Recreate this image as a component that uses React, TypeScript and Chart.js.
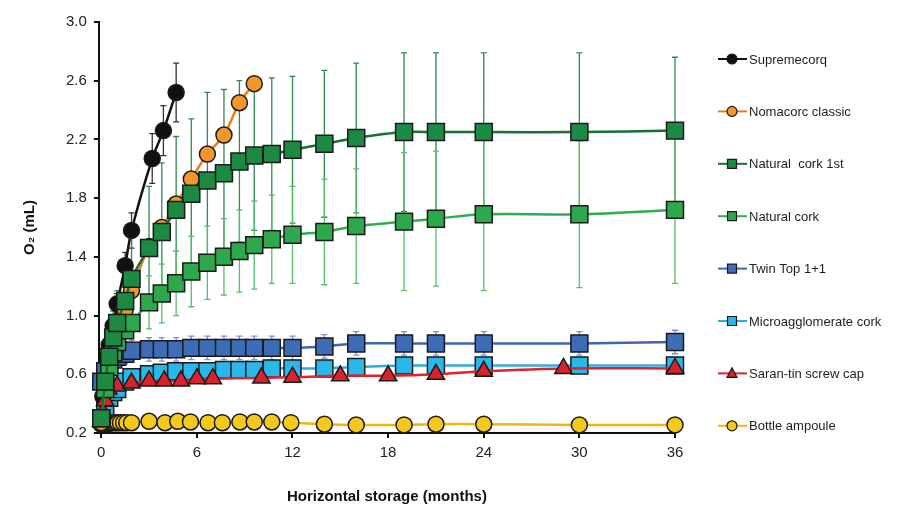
import React, { useEffect, useRef } from 'react';
import { Chart, registerables } from 'chart.js';

Chart.register(...registerables);

const FONT = '"Liberation Sans", Arial, sans-serif';

// ---- data (months, O2 mL, +/- error) ----
const SUPREME_M = [0, 0.1, 0.25, 0.5, 0.75, 1, 1.5, 1.9, 3.2, 3.9, 4.7];
const SUPREME_V = [0.28, 0.45, 0.62, 0.8, 0.93, 1.08, 1.34, 1.58, 2.07, 2.26, 2.52];
const SUPREME_E = [0.01, 0.03, 0.04, 0.05, 0.06, 0.07, 0.09, 0.12, 0.17, 0.17, 0.2];

const NOMA_M = [0, 0.25, 0.5, 0.75, 1, 1.5, 1.9, 3.0, 3.8, 4.7, 5.65, 6.66, 7.7, 8.67, 9.6];
const NOMA_V = [0.27, 0.5, 0.68, 0.8, 0.9, 1.04, 1.17, 1.47, 1.6, 1.76, 1.93, 2.1, 2.23, 2.45, 2.58];
const NOMA_E = [0.01, 0.02, 0.02, 0.03, 0.03, 0.03, 0.03, 0.04, 0.04, 0.04, 0.04, 0.04, 0.04, 0.04, 0.04];

const COMMON_M = [0, 0.25, 0.5, 0.75, 1, 1.5, 1.9, 3.0, 3.8, 4.7, 5.65, 6.66, 7.7, 8.67, 9.6, 10.7, 12, 14, 16, 19, 21, 24, 30, 36];

const NAT1_V = [0.3, 0.55, 0.72, 0.85, 0.95, 1.1, 1.25, 1.46, 1.57, 1.72, 1.83, 1.92, 1.97, 2.05, 2.09, 2.1, 2.13, 2.17, 2.21, 2.25, 2.25, 2.25, 2.25, 2.26];
const NAT1_E = [0.02, 0.08, 0.12, 0.18, 0.22, 0.28, 0.33, 0.42, 0.47, 0.5, 0.51, 0.6, 0.57, 0.55, 0.51, 0.52, 0.5, 0.5, 0.51, 0.54, 0.54, 0.54, 0.54, 0.5];

const NAT_V = [0.3, 0.5, 0.65, 0.75, 0.82, 0.9, 0.95, 1.09, 1.15, 1.22, 1.3, 1.36, 1.4, 1.44, 1.48, 1.52, 1.55, 1.57, 1.61, 1.64, 1.66, 1.69, 1.69, 1.72];
const NAT_E = [0.02, 0.05, 0.07, 0.09, 0.1, 0.12, 0.14, 0.18, 0.2, 0.22, 0.24, 0.25, 0.26, 0.28, 0.3, 0.3, 0.33, 0.36, 0.39, 0.47, 0.46, 0.52, 0.5, 0.5];

const TWIN_V = [0.55, 0.62, 0.67, 0.7, 0.72, 0.74, 0.76, 0.77, 0.77, 0.77, 0.78, 0.78, 0.78, 0.78, 0.78, 0.78, 0.78, 0.79, 0.81, 0.81, 0.81, 0.81, 0.81, 0.82];
const TWIN_E = [0.03, 0.04, 0.05, 0.06, 0.06, 0.07, 0.07, 0.08, 0.08, 0.08, 0.08, 0.08, 0.08, 0.08, 0.08, 0.08, 0.08, 0.08, 0.08, 0.08, 0.08, 0.08, 0.08, 0.08];

const MICRO_V = [0.3, 0.38, 0.44, 0.48, 0.5, 0.55, 0.58, 0.6, 0.61, 0.62, 0.62, 0.62, 0.63, 0.63, 0.63, 0.64, 0.64, 0.64, 0.65, 0.66, 0.66, 0.66, 0.66, 0.66];
const MICRO_E = [0.01, 0.02, 0.02, 0.03, 0.03, 0.03, 0.03, 0.03, 0.03, 0.03, 0.03, 0.03, 0.03, 0.03, 0.03, 0.03, 0.03, 0.03, 0.03, 0.03, 0.03, 0.03, 0.03, 0.03];

const SARAN_M = [0, 0.1, 0.25, 0.45, 1.0, 1.9, 3.0, 3.95, 5.0, 6.0, 7.0, 10.05, 12, 15, 18, 21, 24, 29, 36];
const SARAN_V = [0.28, 0.34, 0.42, 0.5, 0.52, 0.54, 0.555, 0.555, 0.555, 0.57, 0.57, 0.575, 0.58, 0.59, 0.59, 0.6, 0.62, 0.64, 0.64];
const SARAN_E = [0.01, 0.02, 0.02, 0.02, 0.03, 0.03, 0.03, 0.03, 0.03, 0.03, 0.03, 0.03, 0.03, 0.03, 0.03, 0.03, 0.03, 0.03, 0.03];

const BOTTLE_M = [0, 0.15, 0.3, 0.45, 0.6, 0.75, 0.9, 1.05, 1.2, 1.4, 1.6, 1.9, 3.0, 4.0, 4.8, 5.6, 6.7, 7.6, 8.7, 9.6, 10.7, 11.9, 14, 16, 19, 21, 24, 30, 36];
const BOTTLE_V = [0.26, 0.26, 0.265, 0.265, 0.27, 0.27, 0.27, 0.27, 0.27, 0.27, 0.27, 0.27, 0.28, 0.27, 0.28, 0.275, 0.27, 0.27, 0.275, 0.275, 0.275, 0.27, 0.26, 0.255, 0.255, 0.26, 0.26, 0.255, 0.255];
const BOTTLE_E = BOTTLE_M.map(() => 0.01);

const LABELS = [
  'Supremecorq',
  'Nomacorc classic',
  'Natural  cork 1st',
  'Natural cork',
  'Twin Top 1+1',
  'Microagglomerate cork',
  'Saran-tin screw cap',
  'Bottle ampoule',
];

const X_TICKS = [0, 6, 12, 18, 24, 30, 36];
const Y_TICKS = [0.2, 0.6, 1.0, 1.4, 1.8, 2.2, 2.6, 3.0];

type Series = {
  label: string;
  months: number[];
  values: number[];
  errors: number[];
  line: string;
  fill: string;
  err: string;
  style: 'circle' | 'rect' | 'triangle';
  radius: number;
  order: number;
};

const SERIES: Series[] = [
  { label: LABELS[0], months: SUPREME_M, values: SUPREME_V, errors: SUPREME_E, line: '#111111', fill: '#111111', err: '#333333', style: 'circle', radius: 8, order: 6 },
  { label: LABELS[1], months: NOMA_M, values: NOMA_V, errors: NOMA_E, line: '#f07a1a', fill: '#f5962a', err: '#f07a1a', style: 'circle', radius: 8, order: 5 },
  { label: LABELS[2], months: COMMON_M, values: NAT1_V, errors: NAT1_E, line: '#15703a', fill: '#1c8a43', err: '#2f8a4f', style: 'rect', radius: 12, order: 1 },
  { label: LABELS[3], months: COMMON_M, values: NAT_V, errors: NAT_E, line: '#2fae4e', fill: '#2ea84c', err: '#55bf6a', style: 'rect', radius: 12, order: 2 },
  { label: LABELS[4], months: COMMON_M, values: TWIN_V, errors: TWIN_E, line: '#3a68b2', fill: '#3d6db6', err: '#8f86c4', style: 'rect', radius: 12, order: 3 },
  { label: LABELS[5], months: COMMON_M, values: MICRO_V, errors: MICRO_E, line: '#2aaee6', fill: '#2ab7ea', err: '#2aaee6', style: 'rect', radius: 12, order: 7 },
  { label: LABELS[6], months: SARAN_M, values: SARAN_V, errors: SARAN_E, line: '#e0232a', fill: '#d8232a', err: '#e0232a', style: 'triangle', radius: 10, order: 4 },
  { label: LABELS[7], months: BOTTLE_M, values: BOTTLE_V, errors: BOTTLE_E, line: '#f2b705', fill: '#f7c81c', err: '#f2b705', style: 'circle', radius: 8, order: 8 },
];

const errorBarPlugin = {
  id: 'errorBars',
  beforeDatasetsDraw(chart: any) {
    const { ctx, scales } = chart;
    const x = scales.x;
    const y = scales.y;
    ctx.save();
    chart.data.datasets.forEach((ds: any) => {
      const errs: number[] = ds.errors;
      if (!errs) return;
      ctx.strokeStyle = ds.errColor;
      ctx.lineWidth = 1.3;
      ds.data.forEach((p: any, j: number) => {
        const e = errs[j];
        if (!e) return;
        const px = x.getPixelForValue(p.x);
        const top = y.getPixelForValue(p.y + e);
        const bot = y.getPixelForValue(p.y - e);
        ctx.beginPath();
        ctx.moveTo(px, top);
        ctx.lineTo(px, bot);
        ctx.moveTo(px - 3, top);
        ctx.lineTo(px + 3, top);
        ctx.moveTo(px - 3, bot);
        ctx.lineTo(px + 3, bot);
        ctx.stroke();
      });
    });
    ctx.restore();
  },
};

function drawMarker(ctx: CanvasRenderingContext2D, style: string, cx: number, cy: number, r: number, fill: string) {
  ctx.beginPath();
  if (style === 'circle') {
    ctx.arc(cx, cy, r, 0, Math.PI * 2);
  } else if (style === 'rect') {
    ctx.rect(cx - r, cy - r, 2 * r, 2 * r);
  } else {
    ctx.moveTo(cx, cy - r * 1.1);
    ctx.lineTo(cx + r, cy + r * 0.8);
    ctx.lineTo(cx - r, cy + r * 0.8);
    ctx.closePath();
  }
  ctx.fillStyle = fill;
  ctx.fill();
  ctx.lineWidth = 1.2;
  ctx.strokeStyle = '#1a1a1a';
  ctx.stroke();
}

const sideLegendPlugin = {
  id: 'sideLegend',
  afterDraw(chart: any) {
    const { ctx, chartArea } = chart;
    const x0 = 718;
    ctx.save();
    SERIES.forEach((s, i) => {
      const cy = chartArea.top + 37 + i * 52.4;
      ctx.strokeStyle = s.line;
      ctx.lineWidth = 2;
      ctx.beginPath();
      ctx.moveTo(x0, cy);
      ctx.lineTo(x0 + 29, cy);
      ctx.stroke();
      drawMarker(ctx, s.style, x0 + 14, cy, s.style === 'rect' ? 4.5 : 5, s.fill);
      ctx.fillStyle = '#1e1e1e';
      ctx.font = `13px ${FONT}`;
      ctx.textBaseline = 'middle';
      ctx.textAlign = 'left';
      ctx.fillText(s.label, x0 + 31, cy + 1);
    });
    ctx.restore();
  },
};

export default function App() {
  const ref = useRef<HTMLCanvasElement | null>(null);

  useEffect(() => {
    document.body.style.margin = '0';
    document.body.style.background = '#ffffff';
    const canvas = ref.current;
    if (!canvas) return;

    const datasets = SERIES.map((s) => ({
      label: s.label,
      data: s.months.map((m, i) => ({ x: m, y: s.values[i] })),
      errors: s.errors,
      errColor: s.err,
      borderColor: s.line,
      backgroundColor: s.fill,
      borderWidth: 2.5,
      tension: 0.3,
      pointStyle: s.style,
      pointRadius: s.radius,
      pointHoverRadius: s.radius,
      pointBackgroundColor: s.fill,
      pointBorderColor: '#1a1a1a',
      pointBorderWidth: 1.5,
      order: s.order,
      fill: false,
      clip: false,
    }));

    const chart = new Chart(canvas, {
      type: 'line',
      data: { datasets } as any,
      plugins: [errorBarPlugin, sideLegendPlugin],
      options: {
        responsive: false,
        animation: false,
        events: [],
        layout: { padding: { left: 8, right: 244, top: 22, bottom: 0 } },
        plugins: {
          legend: { display: false },
          tooltip: { enabled: false },
        },
        scales: {
          x: {
            type: 'linear',
            min: -0.15,
            max: 36,
            afterBuildTicks: (scale: any) => {
              scale.ticks = X_TICKS.map((v) => ({ value: v }));
            },
            grid: { drawOnChartArea: false, drawTicks: true, tickLength: 5, color: '#111', lineWidth: 2 },
            border: { color: '#111', width: 2 },
            ticks: { color: '#222', font: { family: FONT, size: 15 }, padding: 6, maxRotation: 0 },
            title: {
              display: true,
              text: 'Horizontal storage (months)',
              color: '#111',
              font: { family: FONT, size: 15, weight: 'bold' },
              padding: { top: 20, bottom: 5 },
            },
          },
          y: {
            type: 'linear',
            min: 0.2,
            max: 3.0,
            afterBuildTicks: (scale: any) => {
              scale.ticks = Y_TICKS.map((v) => ({ value: v }));
            },
            grid: { drawOnChartArea: false, drawTicks: true, tickLength: 5, color: '#111', lineWidth: 2 },
            border: { color: '#111', width: 2 },
            ticks: {
              color: '#222',
              font: { family: FONT, size: 15 },
              padding: 7,
              callback: (v: any) => Number(v).toFixed(1),
            },
            title: {
              display: true,
              text: 'O₂ (mL)',
              color: '#111',
              font: { family: FONT, size: 15, weight: 'bold' },
              padding: { top: 13, bottom: 20 },
            },
          },
        },
      } as any,
    });

    return () => chart.destroy();
  }, []);

  return (
    <div style={{ width: 919, height: 511, background: '#fff' }}>
      <canvas ref={ref} width={919} height={511} style={{ display: 'block' }} />
    </div>
  );
}
